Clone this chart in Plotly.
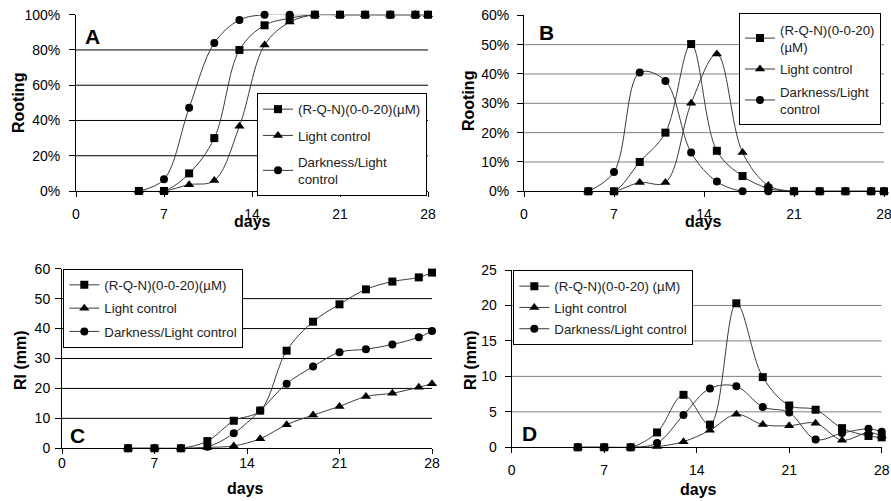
import plotly.graph_objects as go

# ---------------- data ----------------
days = [5, 7, 9, 11, 13, 15, 17, 19, 21, 23, 25, 27, 28]
x_ticks = [0, 7, 14, 21, 28]

series_names_A = ["(R-Q-N)(0-0-20)(µM)", "Light control", "Darkness/Light<br>control"]
series_names_B = ["(R-Q-N)(0-0-20)<br>(µM)", "Light control", "Darkness/Light<br>control"]
series_names_C = ["(R-Q-N)(0-0-20)(µM)", "Light control", "Darkness/Light control"]
series_names_D = ["(R-Q-N)(0-0-20) (µM)", "Light control", "Darkness/Light control"]

# Panel A: cumulative rooting (%)
rqn_A = [0, 0, 10, 30, 80, 94, 98, 100, 100, 100, 100, 100, 100]
light_A = [0, 0, 3.6, 5.9, 36.7, 82.8, 95.8, 100, 100, 100, 100, 100, 100]
dark_A = [0, 6.6, 47.2, 83.9, 97, 100, 100, 100, 100, 100, 100, 100, 100]

# Panel B: rooting per interval (%)
rqn_B = [0, 0, 10, 20, 50.2, 13.8, 5.2, 1, 0, 0, 0, 0, 0]
light_B = [0, 0, 3, 3, 30, 46.8, 13.2, 2, 0, 0, 0, 0, 0]
dark_B = [0, 6.6, 40.5, 37.6, 13.2, 3.3, 0, 0, 0, 0, 0, 0, 0]

# Panel C: cumulative root length (mm)
rqn_C = [0, 0, 0, 2.4, 9.2, 12.6, 32.6, 42.3, 48.1, 53.1, 55.7, 57.1, 58.7]
light_C = [0, 0, 0, 0.3, 0.8, 3.2, 7.9, 11.1, 14, 17.3, 18.4, 20.4, 21.6]
dark_C = [0, 0, 0, 0.5, 5, 12.6, 21.6, 27.3, 32.1, 33.1, 34.7, 37.1, 39.2]

# Panel D: root length increment (mm)
rqn_D = [0, 0, 0, 2.1, 7.4, 3.2, 20.3, 9.9, 5.9, 5.3, 2.7, 1.6, 1.4]
light_D = [0, 0, 0, 0.1, 0.8, 2.4, 4.65, 3.2, 3.05, 3.4, 1.0, 2.1, 1.6]
dark_D = [0, 0, 0, 0.6, 4.55, 8.3, 8.6, 5.7, 4.9, 1.1, 2.0, 2.6, 2.2]

yticks_A = [0, 20, 40, 60, 80, 100]
yticks_B = [0, 10, 20, 30, 40, 50, 60]
yticks_C = [0, 10, 20, 30, 40, 50, 60]
yticks_D = [0, 5, 10, 15, 20, 25]

# ---------------- figure ----------------
W, H = 891, 501
FONT = "Arial, Liberation Sans, Helvetica, sans-serif"

def px_x(p):
    return p / W

def px_y(p):
    return 1 - p / H

symbols = ["square", "triangle-up", "circle"]
msizes = [8, 9, 8]

fig = go.Figure()

panels = [
    ("A", "", [rqn_A, light_A, dark_A], series_names_A, "legend"),
    ("B", "2", [rqn_B, light_B, dark_B], series_names_B, "legend2"),
    ("C", "3", [rqn_C, light_C, dark_C], series_names_C, "legend3"),
    ("D", "4", [rqn_D, light_D, dark_D], series_names_D, "legend4"),
]

for key, sfx, series, names, leg in panels:
    for i, (vals, name) in enumerate(zip(series, names)):
        fig.add_trace(go.Scatter(
            x=days, y=vals, name=name,
            mode="lines+markers",
            line=dict(color="#3a3a3a", width=1, shape="spline", smoothing=1),
            marker=dict(symbol=symbols[i], size=msizes[i], color="black",
                        line=dict(width=0)),
            xaxis="x" + sfx, yaxis="y" + sfx,
            legend=leg, legendgroup=key + str(i),
            cliponaxis=False,
        ))

# plot-area pixel boxes in the page: (left, right, top, bottom)
boxes = {
    "A": (76, 428, 14.7, 191),
    "B": (524, 884, 15.3, 191.3),
    "C": (62, 432, 268.7, 448.3),
    "D": (511.7, 881.7, 270, 447.3),
}
yinfo = {
    "A": (yticks_A, "%", "black", 6),
    "B": (yticks_B, "%", "#808080", 5),
    "C": (yticks_C, "", "black", 2),
    "D": (yticks_D, "", "#808080", 5),
}
xstand = {"A": 5, "B": 5, "C": -3, "D": 5}

layout = dict(
    width=W, height=H,
    margin=dict(l=0, r=0, t=0, b=0),
    paper_bgcolor="white", plot_bgcolor="white",
    font=dict(family=FONT, size=14, color="black"),
    showlegend=True,
)

shapes = []
for key, sfx, series, names, leg in panels:
    l, r, t, b = boxes[key]
    ticks, suffix, gcol, ystand = yinfo[key]
    xa = "xaxis" + sfx
    ya = "yaxis" + sfx
    layout[xa] = dict(
        domain=[px_x(l), px_x(r)], range=[0, 28], anchor="y" + sfx,
        tickmode="array", tickvals=x_ticks, ticktext=[str(v) for v in x_ticks],
        ticks="outside", ticklen=5, tickcolor="black",
        showline=True, linecolor="black", linewidth=1,
        showgrid=False, zeroline=False, automargin=False,
        ticklabelstandoff=xstand[key], ticklabeloverflow="allow",
        tickfont=dict(family=FONT, size=14, color="black"),
    )
    layout[ya] = dict(
        domain=[px_y(b), px_y(t)], range=[ticks[0], ticks[-1]], anchor="x" + sfx,
        tickmode="array", tickvals=ticks, ticktext=["%g%s" % (v, suffix) for v in ticks],
        ticks="outside", ticklen=6, tickcolor="black",
        showline=True, linecolor="black", linewidth=1,
        showgrid=False, zeroline=False, automargin=False,
        ticklabelstandoff=ystand, ticklabeloverflow="allow",
        tickfont=dict(family=FONT, size=14, color="black"),
    )
    # horizontal gridlines (none at the top of the plot area)
    for v in ticks[1:-1]:
        shapes.append(dict(
            type="line", xref=("x" + sfx) + " domain", yref="y" + sfx,
            x0=0, x1=1, y0=v, y1=v, layer="below",
            line=dict(color=gcol, width=1),
        ))

layout["shapes"] = shapes

legend_style = dict(
    bgcolor="white", bordercolor="black", borderwidth=1,
    font=dict(family=FONT, size=13.3, color="#222222"),
    xanchor="left", yanchor="top", traceorder="grouped",
    itemclick=False, itemdoubleclick=False,
)
layout["legend"] = dict(legend_style, x=px_x(257), y=px_y(93), tracegroupgap=6)
layout["legend2"] = dict(legend_style, x=px_x(739), y=px_y(13.3), tracegroupgap=2)
layout["legend3"] = dict(legend_style, x=px_x(63.3), y=px_y(268.7), tracegroupgap=3)
layout["legend4"] = dict(legend_style, x=px_x(513.3), y=px_y(270), tracegroupgap=1)

annotations = []
# panel letters
for txt, (cx, cy) in {"A": (92, 36), "B": (546, 33), "C": (77, 435), "D": (529, 433)}.items():
    annotations.append(dict(text="<b>%s</b>" % txt, x=px_x(cx), y=px_y(cy),
                            xref="paper", yref="paper", showarrow=False,
                            font=dict(family=FONT, size=21, color="black"),
                            xanchor="center", yanchor="middle"))
# x axis titles
for cx, cy in [(252, 222), (703, 221), (245, 488), (698, 489)]:
    annotations.append(dict(text="<b>days</b>", x=px_x(cx), y=px_y(cy),
                            xref="paper", yref="paper", showarrow=False,
                            font=dict(family=FONT, size=16, color="black"),
                            xanchor="center", yanchor="middle"))
# y axis titles
for txt, cx, cy in [("Rooting", 18, 103), ("Rooting", 468, 101),
                    ("Rl (mm)", 20, 360), ("Rl (mm)", 470, 360)]:
    annotations.append(dict(text="<b>%s</b>" % txt, x=px_x(cx), y=px_y(cy),
                            xref="paper", yref="paper", showarrow=False, textangle=-90,
                            font=dict(family=FONT, size=16, color="black"),
                            xanchor="center", yanchor="middle"))
layout["annotations"] = annotations

fig.update_layout(**layout)
fig.write_html(
    "out.html",
    config={"displayModeBar": False},
    post_script="document.body.style.margin='0px';document.body.style.overflow='hidden';",
)
